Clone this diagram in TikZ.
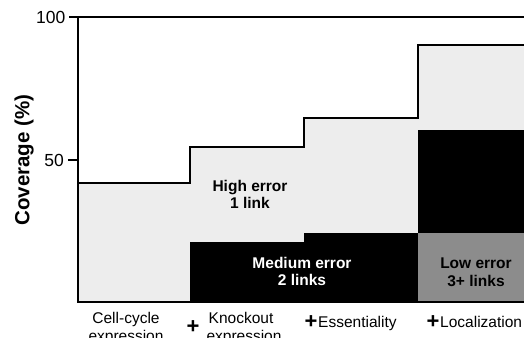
\documentclass[tikz,border=0pt]{standalone}
\usepackage{fontspec}
\setmainfont{Liberation Sans}
\begin{document}
\begin{tikzpicture}[x=1pt,y=-1pt,
  hi/.style={fill=black!7},
  lo/.style={fill=black!45},
  inlab/.style={font=\fontsize{15.5}{17}\selectfont\bfseries, align=center, inner sep=0pt, anchor=base},
  catlab/.style={font=\fontsize{15.5}{18}\selectfont, inner sep=0pt, anchor=base},
  pluslab/.style={font=\fontsize{22}{22}\selectfont\bfseries, inner sep=0pt, anchor=center},
  ticklab/.style={font=\fontsize{17.5}{17.5}\selectfont, inner sep=0pt, anchor=east}]
\useasboundingbox (0,0) rectangle (524,337);
\clip (0,0) rectangle (524,337);
% high error (stippled) region
\fill[hi] (78,302) -- (78,183) -- (190,183) -- (190,147) -- (304,147) -- (304,118)
  -- (418,118) -- (418,45) -- (524,45) -- (524,302) -- cycle;
% medium error (black) region
\fill[black] (190,302) -- (190,242) -- (304,242) -- (304,233) -- (418,233) -- (418,130)
  -- (524,130) -- (524,302) -- cycle;
% low error region
\fill[lo] (418,233) rectangle (524,302);
% total coverage outline
\draw[line width=1.4pt] (78,183) -- (190,183) -- (190,147) -- (304,147) -- (304,118)
  -- (418,118) -- (418,45) -- (524,45);
% frame / axis
\draw[line width=1.2pt] (524,17) -- (78,17) -- (78,302) -- (524,302);
% ticks
\draw[line width=1.2pt] (69,17) -- (78,17);
\draw[line width=1.2pt] (68,160) -- (78,160);
\node[ticklab] (t100) at (65.5,17) {100};
\node[ticklab] (t50) at (64,160) {50};
% y label
\node[font=\fontsize{20.5}{20.5}\selectfont\bfseries, rotate=90, inner sep=0pt] (ylab) at (24,160) {Coverage (\%)};
% inner labels
\node[inlab] (hi1) at (250,191) {High error};
\node[inlab] (hi2) at (250,208) {1 link};
\node[inlab, text=white] (me1) at (302,268) {Medium error};
\node[inlab, text=white] (me2) at (302,285) {2 links};
\node[inlab] (lo1) at (476,268) {Low error};
\node[inlab] (lo2) at (476,286) {3+ links};
% category labels
\node[catlab] (c1a) at (126,323) {Cell-cycle};
\node[catlab] (c1b) at (126,341) {expression};
\node[pluslab] (p2) at (193,327.5) {+};
\node[catlab] (c2a) at (241,323) {Knockout};
\node[catlab] (c2b) at (244,341) {expression};
\node[pluslab] (p3) at (311,322.5) {+};
\node[catlab, anchor=base west] (c3) at (318,327) {Essentiality};
\node[pluslab] (p4) at (433,322.5) {+};
\node[catlab, anchor=base west] (c4) at (440,327) {Localization};
\end{tikzpicture}
\end{document}
